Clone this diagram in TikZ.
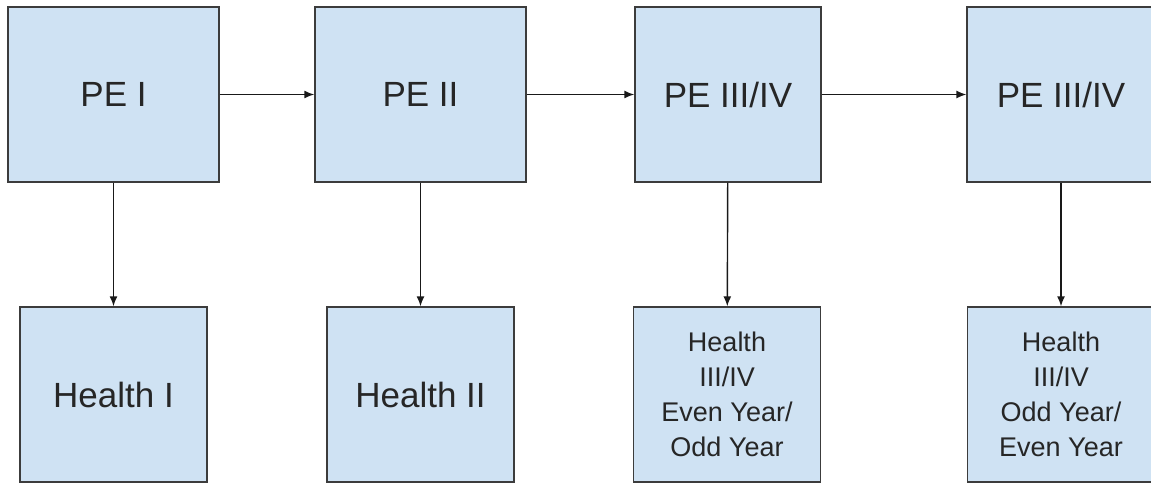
\documentclass[tikz,border=0pt]{standalone}
\usepackage{fontspec}
\setmainfont{Liberation Sans}
\usetikzlibrary{arrows.meta}
\definecolor{boxblue}{HTML}{CFE2F3}
\definecolor{boxline}{HTML}{3C3C3C}
\tikzstyle{pebox}=[draw=boxline, fill=boxblue, line width=1.4, minimum height=175, inner sep=0, align=center, text=black!85, font=\fontsize{35}{40}\selectfont]
\tikzstyle{hbox}=[pebox, minimum width=187]
\tikzstyle{small}=[font=\fontsize{27}{35}\selectfont]
\tikzstyle{arr}=[-{Latex[length=10,width=8]}, line width=1.4, draw=black!90]

\begin{document}
\begin{tikzpicture}[x=1pt,y=1pt]
\useasboundingbox (0,0) rectangle (1151,483);
\clip (0,0) rectangle (1151,483);
% top row
\node[pebox, minimum width=211] (pe1) at (113.5,388.5) {PE I};
\node[pebox, minimum width=211] (pe2) at (420.5,388.5) {PE II};
\node[pebox, minimum width=186] (pe3) at (728,388.5) {PE III/IV};
\node[pebox, minimum width=188] (pe4) at (1061,388.5) {PE III/IV};
% bottom row
\node[hbox] (hl1) at (113.5,88.5) {Health I};
\node[hbox] (hl2) at (420.5,88.5) {Health II};
\node[hbox, small] (hl3) at (727,88.5) {Health\\III/IV\\Even Year/\\Odd Year};
\node[hbox, small] (hl4) at (1061,88.5) {Health\\III/IV\\Odd Year/\\Even Year};
\foreach \a/\b in {1/2, 2/3, 3/4} {
 \draw[arr] (pe\a) -- (pe\b);
}
\foreach \n in {1,...,4} {
 \draw[arr] (pe\n) -- (hl\n);
}
\end{tikzpicture}
\end{document}
